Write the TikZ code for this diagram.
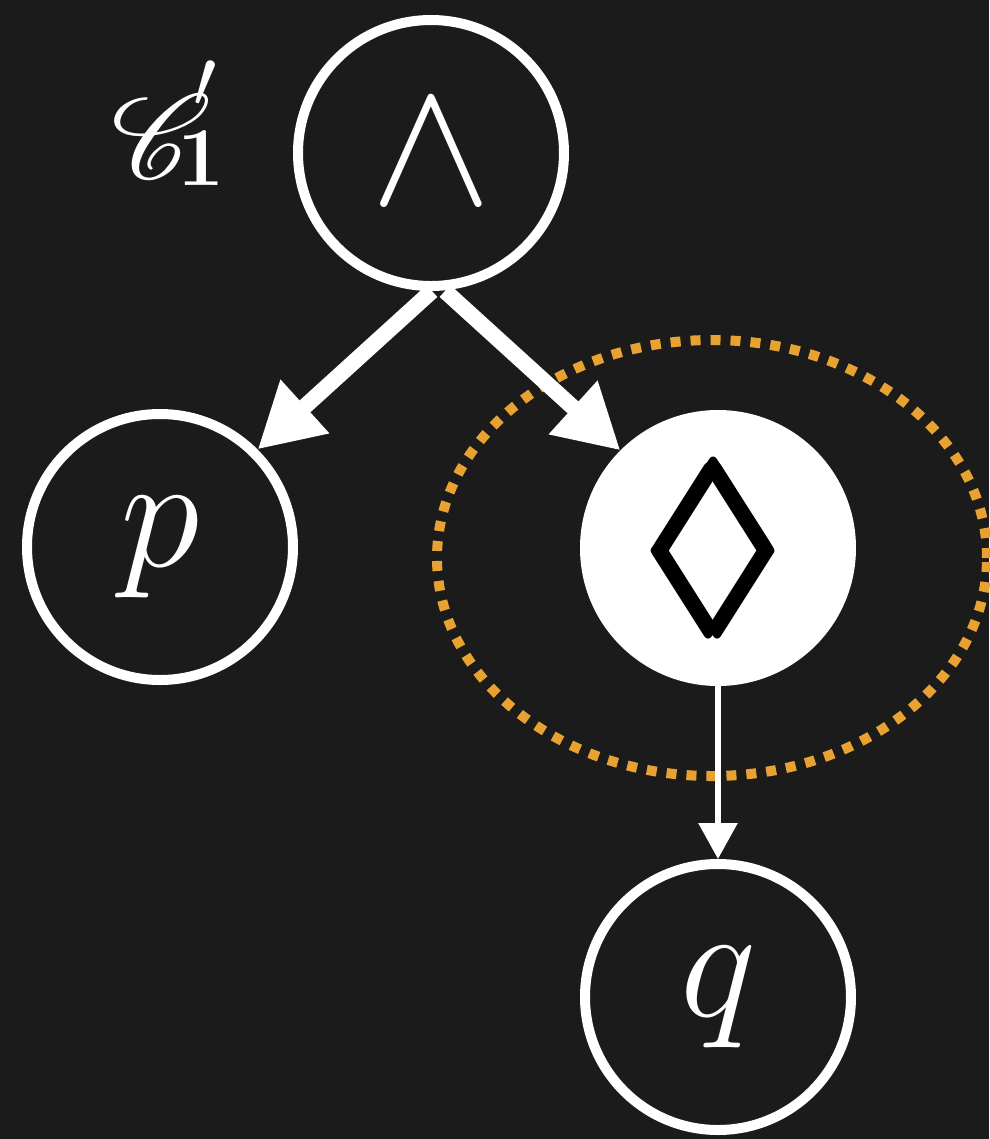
\RequirePackage{fix-cm}
\documentclass[tikz,border=0pt]{standalone}
\usepackage{amsmath}
\usepackage{amssymb}
\usepackage{mathrsfs}
\usepackage{xcolor}
\usetikzlibrary{arrows.meta}

% rsfs a cualquier tamano
\DeclareFontFamily{U}{rsfs}{\skewchar\font127 }
\DeclareFontShape{U}{rsfs}{m}{n}{<-6>rsfs5<6-8>rsfs7<8->rsfs10}{}

\definecolor{fondo}{HTML}{1B1B1B}
\definecolor{naranja}{HTML}{E8A232}

\tikzset{
    nodo/.style={circle, draw=white, line width=0.1cm, minimum size=2.66cm,
        inner sep=0pt, text=white, font=\fontsize{46}{52}\selectfont},
    nodolleno/.style={nodo, fill=white, text=black, font=\fontsize{59}{65}\selectfont},
    flecha/.style={white, line width=0.16cm, -{Triangle[length=0.64cm, width=0.68cm]}},
    flechita/.style={white, line width=0.06cm, -{Triangle[length=0.36cm, width=0.38cm]}}
}

\begin{document}
\begin{tikzpicture}[line cap=butt, line join=round]

% Fondo oscuro
\fill[fondo] (0,0) rectangle (9.89,-11.39);
\useasboundingbox (0,0) rectangle (9.89,-11.39);

% === NODOS ===
\node[nodo] (and) at (4.31,-1.53) {\fontsize{52}{58}\selectfont$\wedge$};
\node[nodo] (p) at (1.60,-5.47) {$p$};
\node[nodolleno] (dia) at (7.18,-5.48) {$\pmb{\lozenge}$};
\node[nodo] (q) at (7.18,-9.97) {$q$};

% Etiqueta de la formula
\node[text=white, anchor=base west, inner sep=0pt, font=\fontsize{34}{40}\selectfont] (lab) at (1.11,-1.78)
    {$\mathscr{C}^{\kern-0.18cm\smash{\raisebox{0.27cm}{$\scriptstyle\prime$}}}_{\kern-0.14cm\smash{\raisebox{0.22cm}{$\scriptstyle\mathbf{1}$}}}$};

% Elipse punteada naranja alrededor del diamante
\draw[naranja, line width=0.1cm, dash pattern=on 0.1cm off 0.1cm] (7.12,-5.58) ellipse (2.75 and 2.18);

% === FLECHAS ===
\draw[flecha] ([xshift=0.01cm]and.south) -- (p.north east);
\draw[flecha] ([xshift=0.14cm]and.south) -- (dia.north west);
\draw[flechita] (dia.south) -- (q.north);

\end{tikzpicture}
\end{document}
